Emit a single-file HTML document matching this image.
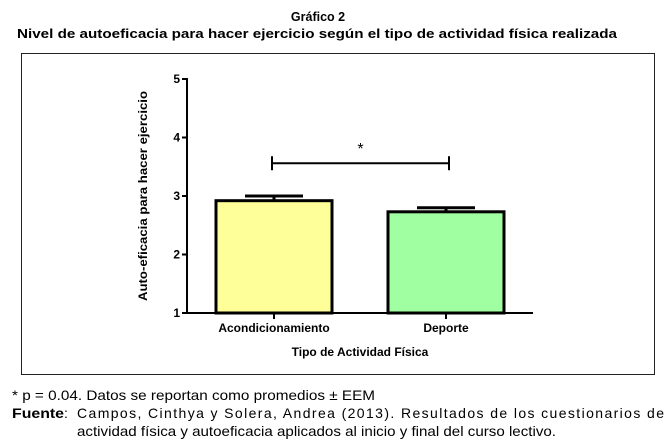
<!DOCTYPE html>
<html><head><meta charset="utf-8"><style>
html,body{margin:0;padding:0;background:#fff;}
svg{display:block;font-family:"Liberation Sans",Arial,sans-serif;}
</style></head><body>
<svg width="672" height="446" viewBox="0 0 672 446">
<text x="318" y="21" text-anchor="middle" font-size="12.5" font-weight="bold">Gráfico 2</text>
<text x="17" y="38" font-size="13" font-weight="bold" textLength="600" lengthAdjust="spacingAndGlyphs">Nivel de autoeficacia para hacer ejercicio según el tipo de actividad física realizada</text>
<rect x="21.5" y="53.5" width="633" height="321" fill="none" stroke="#222" stroke-width="1"/>
<g id="plot"></g>
<text transform="translate(147,196) rotate(-90)" text-anchor="middle" font-size="12" font-weight="bold" textLength="210" lengthAdjust="spacingAndGlyphs">Auto-eficacia para hacer ejercicio</text>
<text x="360" y="356" text-anchor="middle" font-size="12" font-weight="bold">Tipo de Actividad  Física</text>
<text x="12" y="400" font-size="14" textLength="363" lengthAdjust="spacingAndGlyphs">* p = 0.04. Datos se reportan como promedios ± EEM</text>
<text x="12" y="418" font-size="14" font-weight="bold" textLength="52" lengthAdjust="spacingAndGlyphs">Fuente</text>
<text x="64" y="418" font-size="14">:</text>
<text x="77" y="418" font-size="14" textLength="587" lengthAdjust="spacing">Campos, Cinthya y Solera, Andrea (2013). Resultados de los cuestionarios de</text>
<text x="77" y="436" font-size="14" textLength="479" lengthAdjust="spacingAndGlyphs">actividad física y autoeficacia aplicados al inicio y final del curso lectivo.</text>
</svg>
<script>
const categories = ["Acondicionamiento", "Deporte"];
const means = [2.92, 2.73];
const errors = [0.08, 0.07];
const colors = ["#ffff99", "#a0ffa0"];
const yTicks = [1, 2, 3, 4, 5];
const sigLevel = 3.56;

const NS = "http://www.w3.org/2000/svg";
const g = document.getElementById("plot");
const y0 = 313, y1 = 79, vmin = 1, vmax = 5;
function yScale(v){ return y0 - (v - vmin) / (vmax - vmin) * (y0 - y1); }
const axisX = 187, axisEnd = 533;
const centers0 = 274, step = 172, barW = 116;
function xScale(i){ return centers0 + i * step; }
function el(tag, attrs){ const e = document.createElementNS(NS, tag); for (const k in attrs) e.setAttribute(k, attrs[k]); g.appendChild(e); return e; }

// bars
categories.forEach((c, i) => {
  const cx = xScale(i);
  const top = yScale(means[i]);
  const r = el("rect", {x: cx - barW/2, y: top, width: barW, height: y0 - top, fill: colors[i], stroke: "#000", "stroke-width": 3});
  
  
  const eTop = yScale(means[i] + errors[i]);
  const el1 = el("line", {x1: cx, x2: cx, y1: top, y2: eTop, stroke: "#000", "stroke-width": 3});
  
  
  const cap = el("line", {x1: cx - 29, x2: cx + 29, y1: eTop, y2: eTop, stroke: "#000", "stroke-width": 3});
  
  
  const tk = el("line", {x1: cx, x2: cx, y1: y0, y2: y0 + 6, stroke: "#000", "stroke-width": 2});
  
  
  const lb = el("text", {x: cx, y: 332, "text-anchor": "middle", "font-size": 12, "font-weight": "bold"});
  lb.textContent = c;
  
  
});

// axes
const ya = el("line", {x1: axisX, x2: axisX, y1: y1 - 1, y2: y0 + 1, stroke: "#000", "stroke-width": 2});


const xa = el("line", {x1: axisX - 1, x2: axisEnd, y1: y0, y2: y0, stroke: "#000", "stroke-width": 2});


yTicks.forEach(v => {
  const y = yScale(v);
  const t = el("line", {x1: axisX - 5, x2: axisX, y1: y, y2: y, stroke: "#000", "stroke-width": 2});
  
  
  const l = el("text", {x: axisX - 7, y: y + 4, "text-anchor": "end", "font-size": 12, "font-weight": "bold"});
  l.textContent = v;
  
  
});

// significance bracket
const sy = yScale(sigLevel);
const sx1 = xScale(0) - 2, sx2 = xScale(1) + 3;
const sl = el("line", {x1: sx1, x2: sx2, y1: sy, y2: sy, stroke: "#000", "stroke-width": 2});


[sx1, sx2].forEach(x => {
  const e = el("line", {x1: x, x2: x, y1: sy - 7, y2: sy + 7, stroke: "#000", "stroke-width": 2});
  
  
});
const st = el("text", {x: (sx1 + sx2) / 2, y: sy - 9, "text-anchor": "middle", "font-size": 16});
st.textContent = "*";


</script>
</body></html>
